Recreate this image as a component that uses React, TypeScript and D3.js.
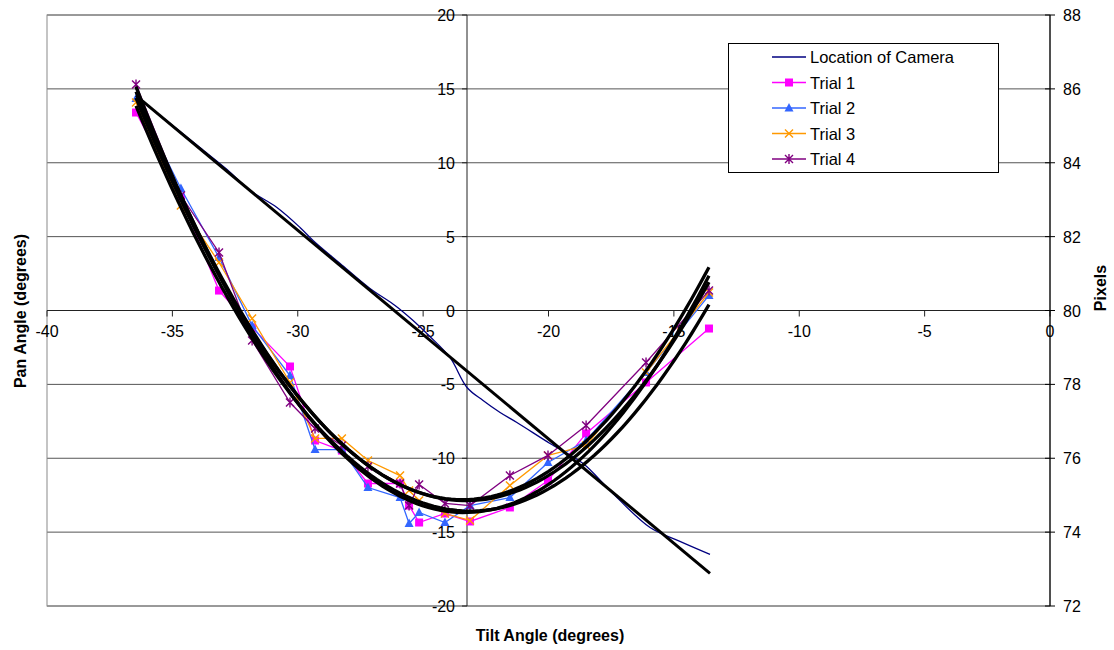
import React from "react";
import * as d3 from "d3";

// ---- data ----
const panTicks = [-20, -15, -10, -5, 0, 5, 10, 15, 20];
const tiltTicks = [-40, -35, -30, -25, -20, -15, -10, -5, 0];
const pixelTicks = [72, 74, 76, 78, 80, 82, 84, 86, 88];

const cameraTilt = [-36.45, -35.09, -33.9, -32.82, -31.9, -30.83, -29.91, -29.39, -28.31, -27.12, -26.12, -25.4, -24.73, -23.93, -23.25, -22.61, -21.93, -21.26, -19.94, -18.62, -17.55, -15.95, -14.76, -13.56];
const cameraPan = [14.48, 12.66, 11.03, 9.54, 8.12, 6.97, 5.62, 4.74, 3.18, 1.49, 0.34, -0.68, -1.76, -3.18, -5.21, -6.09, -6.9, -7.58, -9.0, -10.36, -12.18, -14.69, -15.63, -16.51];

const trialTilt = [-36.45, -34.66, -33.14, -31.82, -30.31, -29.31, -28.24, -27.2, -25.92, -25.56, -25.16, -24.13, -23.13, -21.54, -20.02, -18.5, -16.11, -13.6];
const trial1 = [13.4, 7.65, 1.35, -1.15, -3.79, -8.8, -9.48, -11.71, -11.71, -13.2, -14.35, -13.74, -14.28, -13.33, -11.51, -8.32, -4.87, -1.22];
const trial2 = [14.35, 8.26, 3.59, -1.02, -4.4, -9.41, -9.41, -11.98, -12.66, -14.42, -13.67, -14.35, -13.2, -12.66, -10.29, -8.8, -4.2, 1.02];
const trial3 = [14.08, 7.11, 3.25, -0.54, -4.87, -8.66, -8.66, -10.15, -11.17, -12.18, -12.86, -13.74, -14.21, -11.84, -9.81, -9.14, -4.2, 1.22];
const trial4 = [15.3, 7.78, 3.93, -2.03, -6.23, -7.99, -9.14, -10.56, -11.71, -13.2, -11.78, -13.06, -13.2, -11.17, -9.81, -7.78, -3.52, 1.35];

const seriesNames = ["Location of Camera", "Trial 1", "Trial 2", "Trial 3", "Trial 4"];
const seriesColors = ["#000080", "#FF00FF", "#3366FF", "#FF9900", "#800080"];
const markerKinds = ["none", "square", "triangle", "x", "star"];

// ---- layout ----
const W = 1114, H = 650;
const L = 47, R = 1050, T = 15, B = 606;
const FONT = "'Liberation Sans', Arial, sans-serif";

const xS = d3.scaleLinear().domain([-40, 0]).range([L, R]);
const yS = d3.scaleLinear().domain([-20, 20]).range([B, T]);
const yPix = d3.scaleLinear().domain([72, 88]).range([B, T]);
const yAxisX = xS(-23.25);

function fitPoly2(xs: number[], ys: number[]) {
  const mx = d3.mean(xs) as number;
  let s1 = 0, s2 = 0, s3 = 0, s4 = 0, t0 = 0, t1 = 0, t2 = 0;
  const n = xs.length;
  xs.forEach((x0, i) => {
    const x = x0 - mx, y = ys[i];
    s1 += x; s2 += x * x; s3 += x * x * x; s4 += x * x * x * x;
    t0 += y; t1 += x * y; t2 += x * x * y;
  });
  const M = [[s4, s3, s2], [s3, s2, s1], [s2, s1, n]];
  const v = [t2, t1, t0];
  const det = (m: number[][]) =>
    m[0][0] * (m[1][1] * m[2][2] - m[1][2] * m[2][1]) -
    m[0][1] * (m[1][0] * m[2][2] - m[1][2] * m[2][0]) +
    m[0][2] * (m[1][0] * m[2][1] - m[1][1] * m[2][0]);
  const D = det(M);
  const sol = [0, 1, 2].map((k) => {
    const Mk = M.map((row, r) => row.map((c, j) => (j === k ? v[r] : c)));
    return det(Mk) / D;
  });
  return (x: number) => sol[0] * (x - mx) ** 2 + sol[1] * (x - mx) + sol[2];
}

function fitLinear(xs: number[], ys: number[]) {
  const mx = d3.mean(xs) as number, my = d3.mean(ys) as number;
  let sxy = 0, sxx = 0;
  xs.forEach((x, i) => { sxy += (x - mx) * (ys[i] - my); sxx += (x - mx) ** 2; });
  const b = sxy / sxx;
  return (x: number) => my + b * (x - mx);
}

function Marker({ kind, x, y, color }: { kind: string; x: number; y: number; color: string }) {
  if (kind === "square") return <rect x={x - 4} y={y - 4} width={8} height={8} fill={color} />;
  if (kind === "triangle") return <path d={`M${x},${y - 5}L${x + 4.5},${y + 3.5}L${x - 4.5},${y + 3.5}Z`} fill={color} />;
  if (kind === "x")
    return <path d={`M${x - 4},${y - 4}L${x + 4},${y + 4}M${x - 4},${y + 4}L${x + 4},${y - 4}`} stroke={color} strokeWidth={1.4} />;
  if (kind === "star")
    return <path d={`M${x - 4},${y - 4}L${x + 4},${y + 4}M${x - 4},${y + 4}L${x + 4},${y - 4}M${x},${y - 5}L${x},${y + 5}`} stroke={color} strokeWidth={1.4} />;
  return null;
}

export default function App() {
  const trials = [trial1, trial2, trial3, trial4];
  const lineGen = d3.line<[number, number]>().x((d) => xS(d[0])).y((d) => yS(d[1]));
  const smooth = d3.line<[number, number]>().x((d) => xS(d[0])).y((d) => yS(d[1])).curve(d3.curveCatmullRom.alpha(0.5));

  const camPts: [number, number][] = cameraTilt.map((t, i) => [t, cameraPan[i]]);
  const camFit = fitLinear(cameraTilt, cameraPan);
  const cx0 = d3.min(cameraTilt) as number, cx1 = d3.max(cameraTilt) as number;

  const trendPaths = trials.map((ys) => {
    const f = fitPoly2(trialTilt, ys);
    const x0 = d3.min(trialTilt) as number, x1 = d3.max(trialTilt) as number;
    const pts: [number, number][] = d3.range(0, 101).map((i) => {
      const x = x0 + ((x1 - x0) * i) / 100;
      return [x, f(x)];
    });
    return lineGen(pts) as string;
  });

  return (
    <svg width={W} height={H} style={{ position: "absolute", left: 0, top: 0, background: "#fff" }} fontFamily={FONT}>
      <rect x={0} y={0} width={W} height={H} fill="#fff" />
      {/* gridlines */}
      {panTicks.map((t) => (
        <line key={"g" + t} x1={L} x2={R} y1={yS(t)} y2={yS(t)} stroke="#555" strokeWidth={1} />
      ))}
      <rect x={L} y={T} width={R - L} height={B - T} fill="none" stroke="#8a8a8a" strokeWidth={1} />
      {/* horizontal axis at pan = 0 */}
      <line x1={L} x2={R} y1={yS(0)} y2={yS(0)} stroke="#222" strokeWidth={1} />
      {tiltTicks.map((t) => (
        <g key={"xt" + t}>
          <line x1={xS(t)} x2={xS(t)} y1={yS(0)} y2={yS(0) + 6} stroke="#222" />
          <text x={xS(t)} y={yS(0) + 26} fontSize={16} textAnchor="middle" fill="#000">{t}</text>
        </g>
      ))}
      {/* vertical pan axis */}
      <line x1={yAxisX} x2={yAxisX} y1={T} y2={B} stroke="#222" strokeWidth={1} />
      {panTicks.map((t) => (
        <g key={"yt" + t}>
          <line x1={yAxisX - 5} x2={yAxisX} y1={yS(t)} y2={yS(t)} stroke="#222" />
          <text x={yAxisX - 12} y={yS(t) + 6} fontSize={16} textAnchor="end" fill="#000">{t}</text>
        </g>
      ))}
      {/* secondary pixel axis */}
      <line x1={R} x2={R} y1={T} y2={B} stroke="#000" strokeWidth={1.2} />
      {pixelTicks.map((t) => (
        <g key={"pt" + t}>
          <line x1={R - 5} x2={R + 5} y1={yPix(t)} y2={yPix(t)} stroke="#000" />
          <text x={R + 13} y={yPix(t) + 6} fontSize={16} textAnchor="start" fill="#000">{t}</text>
        </g>
      ))}

      {/* camera */}
      <path d={smooth(camPts) as string} fill="none" stroke={seriesColors[0]} strokeWidth={1.3} />
      {/* trials */}
      {trials.map((ys, k) => {
        const pts: [number, number][] = trialTilt.map((t, i) => [t, ys[i]]);
        return (
          <g key={"tr" + k}>
            <path d={lineGen(pts) as string} fill="none" stroke={seriesColors[k + 1]} strokeWidth={1.3} />
            {pts.map((p, i) => (
              <Marker key={i} kind={markerKinds[k + 1]} x={xS(p[0])} y={yS(p[1])} color={seriesColors[k + 1]} />
            ))}
          </g>
        );
      })}
      {/* trendlines */}
      <path
        d={lineGen([[cx0, camFit(cx0)], [cx1, camFit(cx1)]]) as string}
        fill="none" stroke="#000" strokeWidth={3}
      />
      {trendPaths.map((d, k) => (
        <path key={"tl" + k} d={d} fill="none" stroke="#000" strokeWidth={3.3} />
      ))}

      {/* legend */}
      <rect x={728.5} y={43.5} width={270} height={129} fill="#fff" stroke="#000" strokeWidth={1} />
      {seriesNames.map((name, i) => {
        const yy = 57 + i * 25.5;
        return (
          <g key={"lg" + i}>
            <line x1={772} x2={806} y1={yy} y2={yy} stroke={seriesColors[i]} strokeWidth={1.3} />
            <Marker kind={markerKinds[i]} x={789} y={yy} color={seriesColors[i]} />
            <text x={810} y={yy + 6} fontSize={16.5} fill="#000">{name}</text>
          </g>
        );
      })}

      {/* axis titles */}
      <text x={550} y={641} fontSize={16} fontWeight="bold" textAnchor="middle">Tilt Angle (degrees)</text>
      <text transform={`translate(26,${311}) rotate(-90)`} fontSize={16} fontWeight="bold" textAnchor="middle">Pan Angle (degrees)</text>
      <text transform={`translate(1106,${288}) rotate(-90)`} fontSize={16} fontWeight="bold" textAnchor="middle">Pixels</text>
    </svg>
  );
}
